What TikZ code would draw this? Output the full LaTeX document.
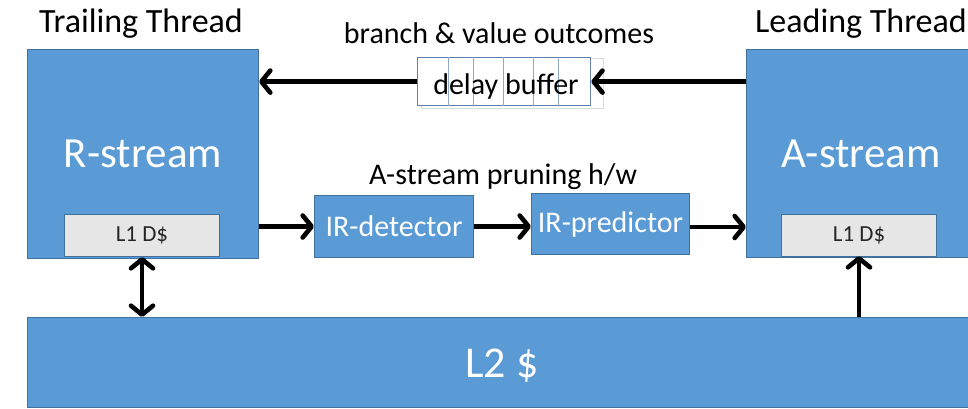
\documentclass[tikz,border=0pt]{standalone}
\usepackage{fontspec}
\setmainfont{Carlito}
\usetikzlibrary{arrows.meta}
\definecolor{boxblue}{HTML}{5B9BD5}
\definecolor{boxedge}{HTML}{41719C}
\definecolor{cachegray}{HTML}{E7E6E6}
\definecolor{bufedge}{HTML}{5E80AA}
\definecolor{celledge}{HTML}{8EA9CB}
\definecolor{shadowgray}{HTML}{DADADA}
\newcommand{\fs}[1]{\fontsize{#1}{#1}\selectfont}
\begin{document}
\begin{tikzpicture}[x=1pt,y=-1pt,
  blk/.style={draw=boxedge, fill=boxblue, line width=1pt, inner sep=0pt, anchor=north west},
  cache/.style={draw=boxedge, fill=cachegray, line width=1pt, inner sep=0pt, anchor=north west,
    font=\fs{23}, text=black!85},
  whitetxt/.style={text=white, inner sep=0pt, anchor=base},
  title/.style={inner sep=0pt, anchor=base, font=\fs{34}},
  caption/.style={inner sep=0pt, anchor=base, font=\fs{30}},
  flow/.style={line width=4.6pt, -{Straight Barb[length=9pt,width=22pt,round]}},
  bothflow/.style={line width=4.6pt, {Straight Barb[length=9pt,width=22pt,round]}-{Straight Barb[length=9pt,width=22pt,round]}}
]
\useasboundingbox (0,0) rectangle (968,408);

% thread boxes
\node[blk, minimum width=231pt, minimum height=209pt] (rbox) at (27,49) {};
\node[blk, minimum width=240pt, minimum height=208pt] (abox) at (746,49) {};
\node[whitetxt, font=\fs{43}] (rtext) at (143,167) {R-stream};
\node[whitetxt, font=\fs{43}] (atext) at (861,167) {A-stream};

% first-level data caches
\node[cache, minimum width=155pt, minimum height=42pt] (rl1) at (64,214) {L1 D\$};
\node[cache, minimum width=155pt, minimum height=42pt] (al1) at (781,214) {L1 D\$};

% shared second-level cache
\node[blk, minimum width=960pt, minimum height=90pt] (l2) at (27,317) {};
\node[whitetxt, font=\fs{44}] (l2text) at (502,377) {L2 \$};

% titles
\node[title] (ttitle) at (141,32) {Trailing Thread};
\node[title] (ltitle) at (861,32) {Leading Thread};
\node[caption] (bvo) at (499,43) {branch \& value outcomes};
\node[caption] (prune) at (503,184) {A-stream pruning h/w};

% delay buffer
\draw[shadowgray, line width=1pt] (421,58) rectangle (603,108);
\node[draw=bufedge, fill=white, line width=1.2pt, inner sep=0pt, anchor=north west,
  minimum width=173pt, minimum height=48pt] (buf) at (417,57) {};
\foreach \x in {31,56,86,116,141}
  \draw[celledge, line width=1pt] ([xshift=\x pt]buf.north west) -- ([xshift=\x pt]buf.south west);
\node[inner sep=0pt, anchor=base, font=\fs{30}] (buftext) at (506,94) {delay buffer};

% pruning hardware
\node[blk, minimum width=159pt, minimum height=62pt, font=\fs{30}, text=white] (det) at (314,195) {IR-detector};
\node[blk, minimum width=158pt, minimum height=61pt, font=\fs{30}, text=white] (pred) at (531,193) {IR-predictor};

% connectors
\draw[flow] (abox.west |- buf.east) -- (buf.east);
\draw[flow] (buf.west) -- (buf.west -| rbox.east);
\draw[flow] (rbox.east |- det.west) -- (det.west);
\draw[flow] (det.east) -- (det.east -| pred.west);
\draw[flow] ([yshift=-3pt]pred.east) -- ([yshift=-3pt]pred.east -| abox.west);
\draw[bothflow] (rl1.south) -- (rl1.south |- l2.north);
\draw[flow] (al1.south |- l2.north) -- ([yshift=1pt]al1.south);
\end{tikzpicture}
\end{document}
